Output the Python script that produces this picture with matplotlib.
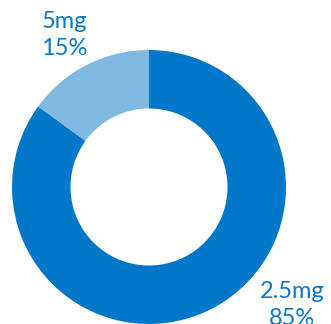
import matplotlib
matplotlib.use("Agg")
import matplotlib.pyplot as plt

labels = ["2.5mg", "5mg"]
values = [85, 15]
colors = ["#0077C8", "#7FB9E1"]
text_color = "#0A78C6"

W, H = 331, 324
fig = plt.figure(figsize=(W / 100, H / 100), dpi=100)
ax = fig.add_axes([0, 0, 1, 1])

cx, cy, r = 149, H - 187, 137
ax.pie(values, colors=colors, startangle=90, counterclock=False,
       center=(cx, cy), radius=r,
       wedgeprops=dict(width=r * 0.427, linewidth=0), frame=True)
ax.set_xlim(0, W)
ax.set_ylim(0, H)
ax.set_aspect("equal")
ax.axis("off")

# baseline of first line of each label
label_pos = [(292, H - 298), (64, H - 28)]
for lab, v, (x, y) in zip(labels, values, label_pos):
    ax.text(x, y, lab, ha="center", va="baseline", fontsize=17,
            family="Lato", color=text_color)
    ax.text(x, y - 27, f"{v}%", ha="center", va="baseline", fontsize=17,
            family="Lato", color=text_color)

fig.savefig("out.png", dpi=100)
